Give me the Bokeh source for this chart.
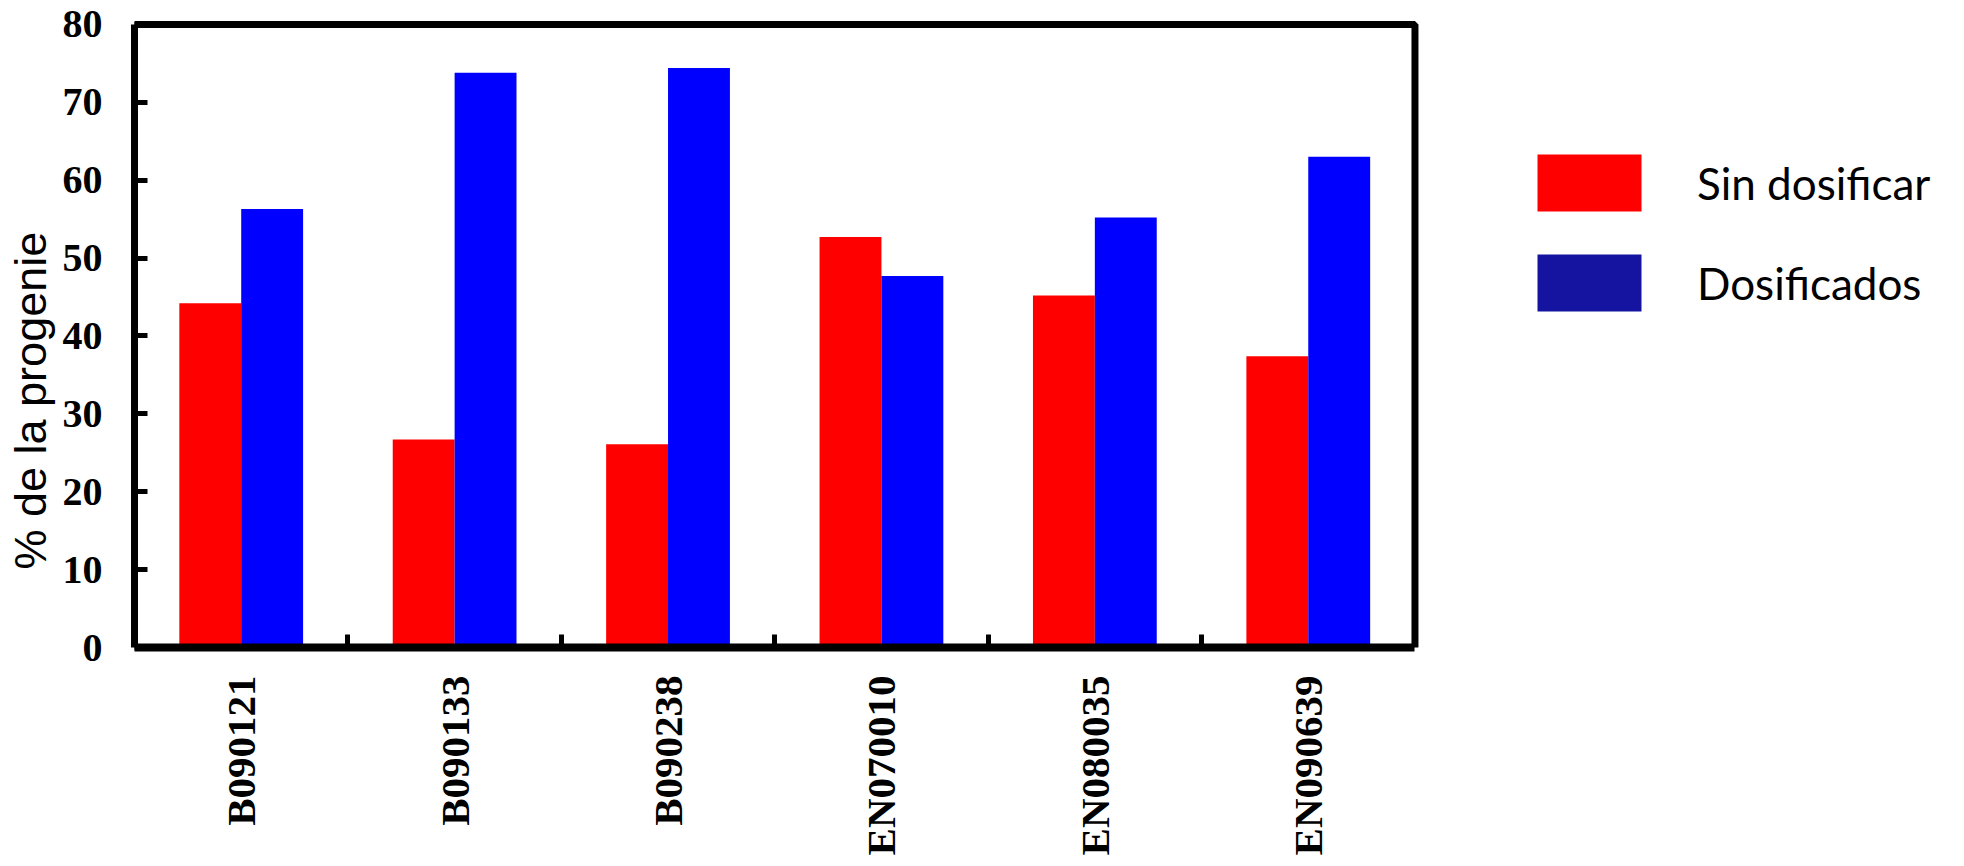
import math
from bokeh.plotting import figure
from bokeh.models import (Range1d, FixedTicker, Legend, LegendItem, Title,
                          ColumnDataSource, BoxAnnotation)
from bokeh.embed import file_html
from bokeh.resources import INLINE

# ---- data ----
categories = ["B090121", "B090133", "B090238", "EN070010", "EN080035", "EN090639"]
sin_dosificar = [44.2, 26.7, 26.1, 52.7, 45.2, 37.4]
dosificados = [56.3, 73.8, 74.4, 47.7, 55.2, 63.0]
y_ticks = [0, 10, 20, 30, 40, 50, 60, 70, 80]
y_max = 80
series_names = ["Sin dosificar", "Dosificados"]
y_title = "% de la progenie"

# ---- styles ----
bar_colors = ["#FF0000", "#0000FF"]
legend_colors = ["#FF0000", "#1414A0"]
bar_w = 0.29
offset = 0.145

n = len(categories)
centers = [i + 0.5 for i in range(n)]

# the frame reaches the right edge so the legend can sit inside it;
# the visible plot box is drawn as a box annotation over the data area
p = figure(width=1948, height=858, output_backend="svg", toolbar_location=None,
           x_range=Range1d(0, 8.5), y_range=Range1d(0, y_max + 0.5),
           min_border_left=134, min_border_top=20, min_border_right=0,
           min_border_bottom=211)
p.background_fill_color = "white"
p.border_fill_color = "white"
p.grid.visible = False
p.outline_line_color = None

src = ColumnDataSource(dict(xr=[c - offset for c in centers],
                            xb=[c + offset for c in centers],
                            red=sin_dosificar, blue=dosificados))
r_red = p.vbar(x="xr", top="red", width=bar_w, source=src,
               fill_color=bar_colors[0], line_color=None)
p.vbar(x="xb", top="blue", width=bar_w, source=src,
       fill_color=bar_colors[1], line_color=None)
# hidden renderer that only supplies the darker legend swatch of the reference
r_blue_leg = p.vbar(x="xb", top="blue", width=bar_w, source=src,
                    fill_color=legend_colors[1], line_color=None, visible=False)

p.add_layout(BoxAnnotation(left=0, right=n, bottom=0, top=y_max,
                           fill_color=None, fill_alpha=0,
                           line_color="black", line_alpha=1.0, line_width=7))

legend = Legend(items=[LegendItem(label=series_names[0], renderers=[r_red]),
                       LegendItem(label=series_names[1], renderers=[r_blue_leg])],
                location=(1390, 329), orientation="vertical",
                glyph_width=130, glyph_height=71, spacing=29,
                padding=0, margin=0,
                label_standoff=43, label_text_font="Lato", label_text_font_size="44px",
                label_text_color="black", label_text_baseline="middle",
                click_policy="none", inactive_fill_alpha=0,
                border_line_alpha=0, background_fill_alpha=0)
p.add_layout(legend)

# y axis
ya = p.yaxis[0]
ya.ticker = FixedTicker(ticks=y_ticks)
ya.bounds = (0, y_max)
ya.axis_line_width = 7
ya.axis_line_color = "black"
ya.major_tick_in = 13
ya.major_tick_out = 0
ya.major_tick_line_width = 5
ya.minor_tick_line_color = None
ya.major_label_text_font = "Liberation Serif"
ya.major_label_text_font_style = "bold"
ya.major_label_text_font_size = "40px"
ya.major_label_text_color = "black"
ya.major_label_standoff = 32

# x axis: labels at centers, ticks at category boundaries
xa = p.xaxis[0]
xa.ticker = FixedTicker(ticks=centers, minor_ticks=[i for i in range(1, n)])
xa.bounds = (0, n)
xa.major_label_overrides = {c: cat for c, cat in zip(centers, categories)}
xa.axis_line_width = 8
xa.axis_line_color = "black"
xa.major_tick_in = 0
xa.major_tick_out = 0
xa.minor_tick_in = 13
xa.minor_tick_out = 0
xa.minor_tick_line_width = 5
xa.minor_tick_line_color = "black"
xa.major_label_orientation = math.pi / 2
xa.major_label_text_font = "Liberation Serif"
xa.major_label_text_font_style = "bold"
xa.major_label_text_font_size = "41px"
xa.major_label_text_color = "black"
xa.major_label_standoff = 28

# y axis title, placed lower than the frame centre as in the reference
p.add_layout(Title(text=y_title, align="left", offset=78, vertical_align="middle",
                   text_font="Liberation Sans", text_font_size="45px",
                   text_font_style="normal", text_color="black", standoff=6), "left")

open("out.html", "w").write(file_html(p, INLINE))
